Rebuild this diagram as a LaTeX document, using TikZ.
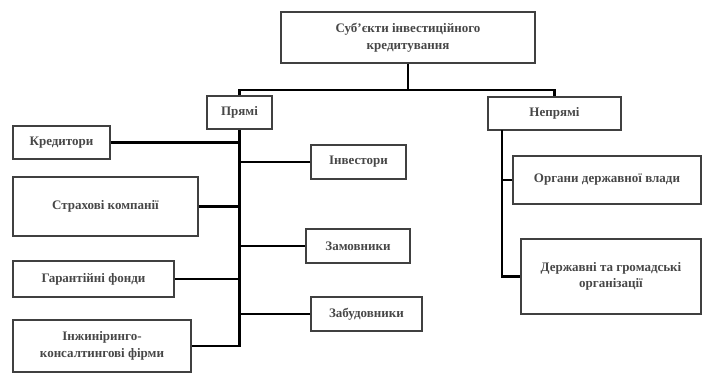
\documentclass[tikz,border=0pt]{standalone}
\usepackage{fontspec}
\setmainfont{Liberation Serif}
\begin{document}
\begin{tikzpicture}[x=1pt,y=-1pt,
  box/.style={draw=black!75, line width=1.3pt, inner sep=0pt, align=center,
    font=\fontsize{13}{16.5}\selectfont\bfseries, text=black!72},
  conn/.style={draw=black, line width=2.5pt}]
\useasboundingbox (0,0) rectangle (702,373);
\node[box, minimum width=254pt, minimum height=51pt] (top) at (408,37.5) {Суб’єкти інвестиційного\\кредитування};
\node[box, minimum width=65pt, minimum height=33pt] (pr) at (239.5,112.5) {Прямі};
\node[box, minimum width=133pt, minimum height=33pt] (nepr) at (554.5,113.5) {Непрямі};
\node[box, minimum width=97pt, minimum height=33pt] (kred) at (61.5,142.5) {Кредитори};
\node[box, minimum width=185pt, minimum height=59pt] (strah) at (105.5,206.5) {Страхові компанії};
\node[box, minimum width=161pt, minimum height=36pt] (gar) at (93.5,279) {Гарантійні фонди};
\node[box, minimum width=178pt, minimum height=52pt] (inzh) at (102,346) {Інжиніринго-\\консалтингові фірми};
\node[box, minimum width=95pt, minimum height=34pt] (inv) at (358.5,162) {Інвестори};
\node[box, minimum width=104pt, minimum height=34pt] (zam) at (358,246) {Замовники};
\node[box, minimum width=111pt, minimum height=34pt] (zab) at (366.5,314) {Забудовники};
\node[box, minimum width=188pt, minimum height=48pt] (org) at (607,180) {Органи державної влади};
\node[box, minimum width=180pt, minimum height=75pt] (derzh) at (611,276.5) {Державні та громадські\\організації};
\coordinate (bus) at (408,90);
\coordinate (rs) at (502,130);
\coordinate (lend) at (pr.south |- inzh.east);
\draw[conn] (top.south) -- (bus);
\draw[conn] (pr.north) |- (bus) -| (nepr.north);
\draw[conn] (pr.south) -- (lend) -- (inzh.east);
\draw[conn] (kred.east) -- (kred.east -| pr.south);
\draw[conn] (strah.east) -- (strah.east -| pr.south);
\draw[conn] (gar.east) -- (gar.east -| pr.south);
\draw[conn] (inv.west) -- (inv.west -| pr.south);
\draw[conn] (zam.west) -- (zam.west -| pr.south);
\draw[conn] (zab.west) -- (zab.west -| pr.south);
\draw[conn] (rs) |- (derzh.west);
\draw[conn] (org.west) -- (org.west -| rs);
\end{tikzpicture}
\end{document}
